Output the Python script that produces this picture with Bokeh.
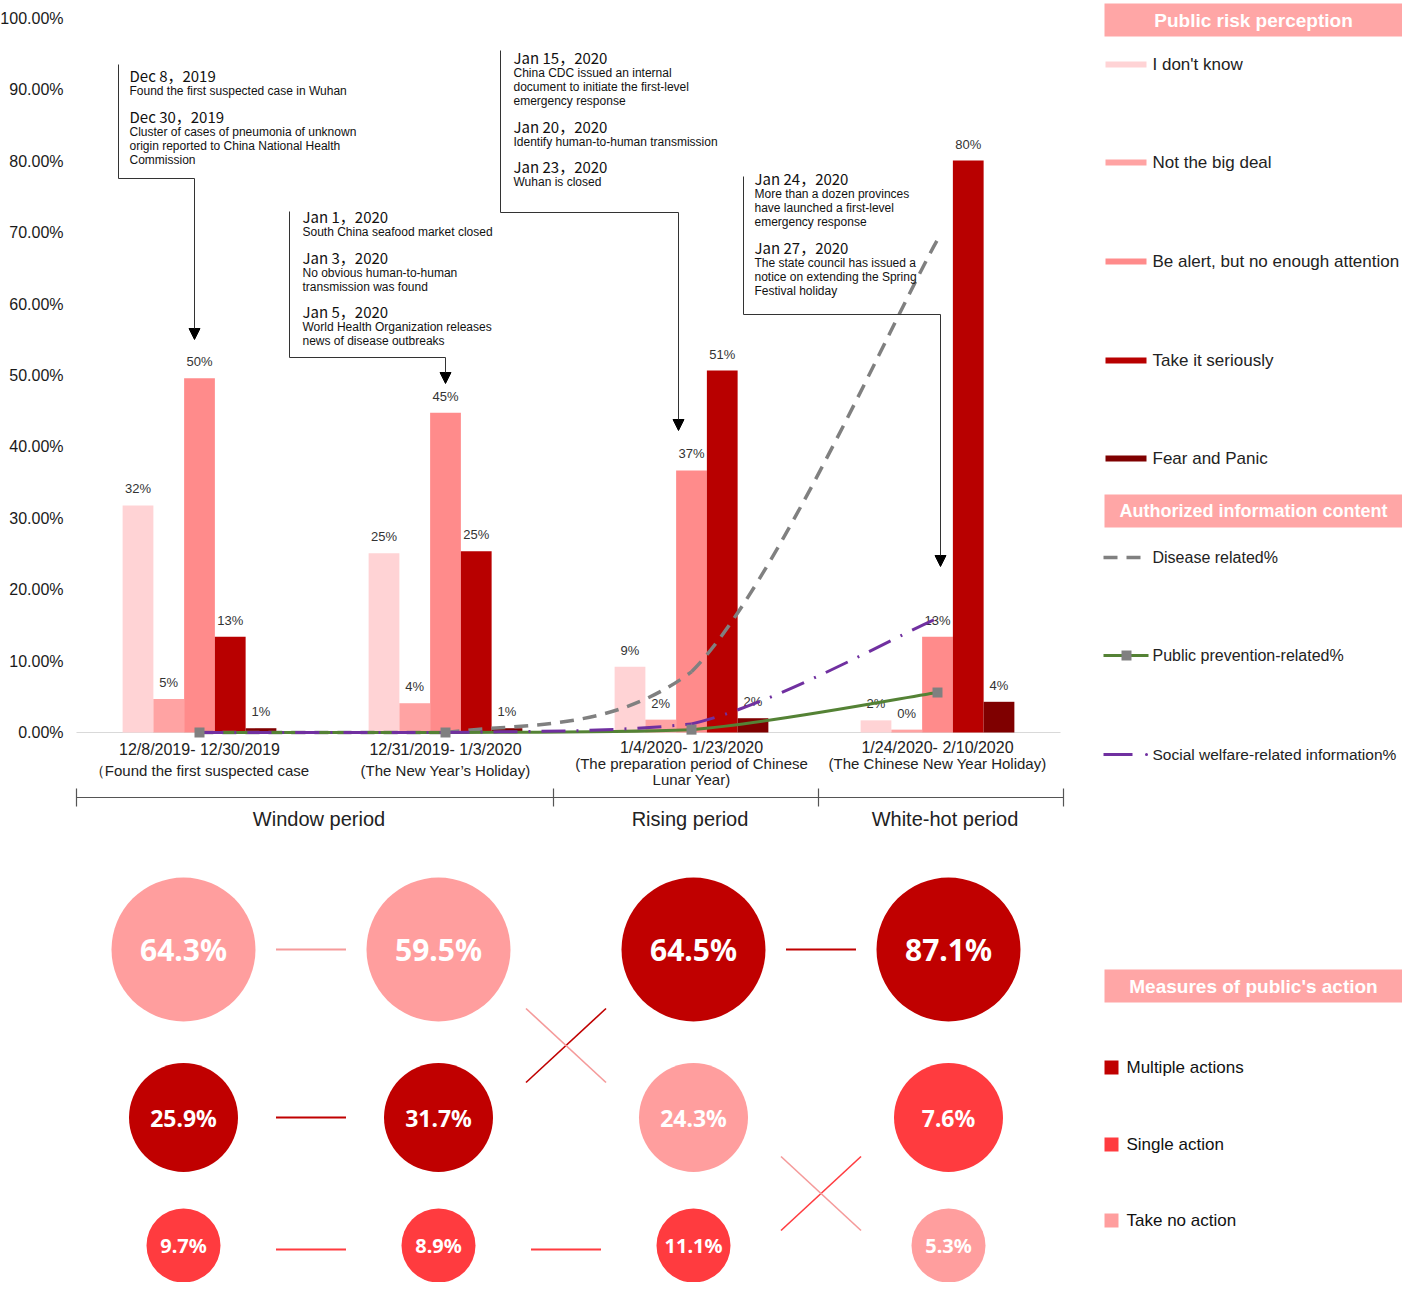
import numpy as np
from bokeh.plotting import figure
from bokeh.models import Range1d, ColumnDataSource, Arrow, NormalHead
from bokeh.embed import file_html
from bokeh.resources import INLINE
from bokeh.core.properties import value

# ---------------- data ----------------
stage_dates = ["12/8/2019- 12/30/2019", "12/31/2019- 1/3/2020",
               "1/4/2020- 1/23/2020", "1/24/2020- 2/10/2020"]
stage_notes = [["（Found the first suspected case"], ["(The New Year’s Holiday)"],
               ["(The preparation period of Chinese", "Lunar Year)"],
               ["(The Chinese New Year Holiday)"]]
periods = ["Window period", "Rising period", "White-hot period"]

risk_levels = ["I don't know", "Not the big deal", "Be alert, but no enough attention",
               "Take it seriously", "Fear and Panic"]
dont_know = [31.8, 25.1, 9.2, 1.7]
not_big_deal = [4.7, 4.1, 1.8, 0.4]
be_alert = [49.6, 44.8, 36.7, 13.4]
take_seriously = [13.4, 25.4, 50.7, 80.1]
fear_panic = [0.6, 0.6, 2.0, 4.3]

info_types = ["Disease related%", "Public prevention-related%",
              "Social welfare-related information%"]
disease_related = [0.0, 0.0, 8.5, 69.0]
prevention_related = [0.0, 0.0, 0.4, 5.6]
welfare_related = [0.0, 0.0, 1.2, 16.0]

y_ticks = [0, 10, 20, 30, 40, 50, 60, 70, 80, 90, 100]
y_tick_labels = [f"{t}.00%" for t in y_ticks]

action_types = ["Multiple actions", "Single action", "Take no action"]
multiple_actions = [25.9, 31.7, 64.5, 87.1]
single_action = [9.7, 8.9, 11.1, 7.6]
no_action = [64.3, 59.5, 24.3, 5.3]

events = [
    [("Dec 8，2019", ["Found the first suspected case in Wuhan"]),
     ("Dec 30，2019", ["Cluster of cases of pneumonia of unknown",
                      "origin reported to China National Health", "Commission"])],
    [("Jan 1，2020", ["South China seafood market closed"]),
     ("Jan 3，2020", ["No obvious human-to-human", "transmission was found"]),
     ("Jan 5，2020", ["World Health Organization releases", "news of disease outbreaks"])],
    [("Jan 15，2020", ["China CDC issued an internal", "document to initiate the first-level",
                      "emergency response"]),
     ("Jan 20，2020", ["Identify human-to-human transmission"]),
     ("Jan 23，2020", ["Wuhan is closed"])],
    [("Jan 24，2020", ["More than a dozen provinces", "have launched a first-level",
                      "emergency response"]),
     ("Jan 27，2020", ["The state council has issued a", "notice on extending the Spring",
                      "Festival holiday"])],
]

# ---------------- layout / style ----------------
PAGE_L, PAGE_T = 0, 0          # picture position of the figure
W, H = 1402, 1282
X0, GROUP_PX = 76, 246          # picture px of x=0, px per stage
Y0, PCT_PX = 732, 7.14          # picture px of 0 %, px per 1 %
def X(px): return (px - X0) / GROUP_PX
def Y(py): return (Y0 - py) / PCT_PX
C0, COL_PX = 183, 255           # bubble columns
def X2(px): return (px - C0) / COL_PX

FONT = value("Liberation Sans")
CJK = value("Noto Sans CJK SC")
bar_colors = ["#FFD3D5", "#FFA3A3", "#FF8B8B", "#B80000", "#7F0000"]
info_colors = ["#808080", "#548235", "#7030A0"]
info_dash = ["14 9", "solid", "24 11 2 11"]
info_width = [3.5, 3, 3]

p = figure(width=W, height=H, output_backend="svg", toolbar_location=None,
           x_range=Range1d(X(PAGE_L), X(PAGE_L + W)),
           y_range=Range1d(Y(PAGE_T + H), Y(PAGE_T)),
           x_axis_location=None, y_axis_location=None, min_border=0)
p.extra_x_ranges = {"bub": Range1d(X2(PAGE_L), X2(PAGE_L + W))}
p.outline_line_color = None
p.grid.visible = False
p.background_fill_color = "white"

def txt(x, y, s, size, color="#222222", align="left", font=FONT, style="normal", **kw):
    p.text(x=[x], y=[y], text=[s], text_align=align, text_baseline="middle", text_font=font,
           text_font_size=size, text_color=color, text_font_style=style, **kw)

# y tick labels
p.text(x=[X(63)] * len(y_ticks), y=y_ticks, text=y_tick_labels, text_align="right",
       text_baseline="middle", text_font=FONT, text_font_size="16px", text_color="#1a1a1a")

# baseline
p.segment(x0=[0], y0=[0], x1=[4], y1=[0], line_color="#D9D9D9", line_width=1.2)

# bars
series = [dont_know, not_big_deal, be_alert, take_seriously, fear_panic]
bw = 0.125
for k, (vals, col) in enumerate(zip(series, bar_colors)):
    xs = [i + 0.5 + (k - 2) * bw for i in range(len(vals))]
    src = ColumnDataSource(dict(x=xs, top=vals, lab=[f"{round(v)}%" for v in vals]))
    p.vbar(x="x", top="top", bottom=0, width=bw, source=src, fill_color=col, line_color=None)
    p.text(x="x", y="top", text="lab", source=src, text_align="center", text_baseline="bottom",
           y_offset=-9, text_font=FONT, text_font_size="13px", text_color="#333333")

# smoothed lines (monotone Bezier through the data points)
def bezier_src(vals):
    pts = [(i + 0.5, v) for i, v in enumerate(vals)]
    n = len(pts)
    d = {k: [] for k in ["x0", "y0", "x1", "y1", "cx0", "cy0", "cx1", "cy1"]}
    for i in range(n - 1):
        p0 = pts[i - 1] if i > 0 else pts[i]
        p1, p2 = pts[i], pts[i + 1]
        p3 = pts[i + 2] if i + 2 < n else pts[i + 1]
        lo, hi = min(p1[1], p2[1]), max(p1[1], p2[1])
        d["x0"].append(p1[0]); d["y0"].append(p1[1])
        d["x1"].append(p2[0]); d["y1"].append(p2[1])
        d["cx0"].append(p1[0] + (p2[0] - p0[0]) / 6)
        d["cy0"].append(min(max(p1[1] + (p2[1] - p0[1]) / 6, lo), hi))
        d["cx1"].append(p2[0] - (p3[0] - p1[0]) / 6)
        d["cy1"].append(min(max(p2[1] - (p3[1] - p1[1]) / 6, lo), hi))
    return ColumnDataSource(d)

line_series = [disease_related, prevention_related, welfare_related]
for k in [0, 1, 2]:
    p.bezier(x0="x0", y0="y0", x1="x1", y1="y1", cx0="cx0", cy0="cy0", cx1="cx1", cy1="cy1",
             source=bezier_src(line_series[k]), line_color=info_colors[k],
             line_width=info_width[k], line_dash=info_dash[k])
p.scatter(x=[i + 0.5 for i in range(len(prevention_related))], y=prevention_related,
          marker="square", size=10, fill_color="#808080", line_color=None)

# stage labels
for i, (d, notes) in enumerate(zip(stage_dates, stage_notes)):
    lines = [d] + notes
    y_first = 749 if i < 2 else 747
    step = 21 if i < 2 else 16
    for j, t in enumerate(lines):
        txt(i + 0.5, Y(y_first + j * step), t, "16px" if j == 0 else "15px", align="center")

# period brackets
BR = [76, 553, 818, 1063]
p.segment(x0=[X(BR[0])], y0=[Y(797)], x1=[X(BR[-1])], y1=[Y(797)], line_color="#555555", line_width=1.2)
p.segment(x0=[X(b) for b in BR], y0=[Y(788)] * 4, x1=[X(b) for b in BR], y1=[Y(806)] * 4,
          line_color="#555555", line_width=1.2)
for name, a, b in zip(periods, BR[:-1], BR[1:]):
    txt(X((a + b) / 2 + 4), Y(818), name, "20px", align="center")

# event annotations
ANN = [dict(tx=129, ty=75, vx=118, top=64, cy=178, ax=194, tip=339),
       dict(tx=302, ty=216, vx=289, top=211, cy=357, ax=445, tip=383),
       dict(tx=513, ty=57, vx=500, top=50, cy=212, ax=678, tip=430),
       dict(tx=754, ty=178, vx=743, top=176, cy=314, ax=940, tip=566)]
for ev, a in zip(events, ANN):
    y = a["ty"]
    for date, desc in ev:
        txt(X(a["tx"]), Y(y), date, "15px", color="#111111", font=CJK)
        y += 15.5
        for line in desc:
            txt(X(a["tx"]), Y(y), line, "12px", color="#111111")
            y += 14
        y += 11
    p.line(x=[X(a["vx"]), X(a["vx"]), X(a["ax"])], y=[Y(a["top"]), Y(a["cy"]), Y(a["cy"])],
           line_color="#333333", line_width=1)
    p.add_layout(Arrow(end=NormalHead(size=11, fill_color="black", line_color="black"),
                       x_start=X(a["ax"]), y_start=Y(a["cy"]), x_end=X(a["ax"]), y_end=Y(a["tip"]),
                       line_color="#333333", line_width=1))

# legend boxes
TITLE_BG = "#FFA6A6"
def title_box(y_top, y_bot, text, size):
    p.quad(left=[X(1104)], right=[X(1402)], top=[Y(y_top)], bottom=[Y(y_bot)],
           fill_color=TITLE_BG, line_color=None)
    txt(X(1253), Y((y_top + y_bot) / 2), text, size, color="white", align="center", style="bold")

title_box(3, 36, "Public risk perception", "19px")
LEG_Y = [64, 162, 261, 360, 458]
for name, col, ly in zip(risk_levels, bar_colors, LEG_Y):
    p.quad(left=[X(1105)], right=[X(1146)], top=[Y(ly - 3)], bottom=[Y(ly + 3)],
           fill_color=col, line_color=None)
    txt(X(1152), Y(ly), name, "17px")
title_box(494, 527, "Authorized information content", "18px")
LEG_Y2 = [557, 655, 754]
LEG_SIZE2 = ["16px", "16px", "15.5px"]
for k, (name, ly) in enumerate(zip(info_types, LEG_Y2)):
    col, dash, w = info_colors[k], info_dash[k], info_width[k]
    if k == 2:
        p.segment(x0=[X(1103)], y0=[Y(ly)], x1=[X(1132)], y1=[Y(ly)], line_color=col, line_width=w)
        p.scatter(x=[X(1146)], y=[Y(ly)], marker="circle", size=3, fill_color=col, line_color=None)
    else:
        p.segment(x0=[X(1103)], y0=[Y(ly)], x1=[X(1148)], y1=[Y(ly)], line_color=col,
                  line_width=w, line_dash=dash)
    if k == 1:
        p.scatter(x=[X(1126)], y=[Y(ly)], marker="square", size=10, fill_color="#808080", line_color=None)
    txt(X(1152), Y(ly), name, LEG_SIZE2[k])

# ---------------- bubble panel ----------------
action_series = [multiple_actions, single_action, no_action]
action_colors = ["#C00000", "#FF3B3F", "#FF9E9E"]
link_colors = ["#C00000", "#FF3B3F", "#F59A9A"]
ROW_Y = [949, 1117, 1245]
ROW_D = [144, 109, 74]
ROW_FONT = ["30px", "23px", "20px"]

n_per = len(multiple_actions)
rank = [[0] * n_per for _ in action_series]
for i in range(n_per):
    vals = [s[i] for s in action_series]
    order = sorted(range(len(vals)), key=lambda k: -vals[k])
    for r, k in enumerate(order):
        rank[k][i] = r

for k, col in enumerate(link_colors):
    for i in range(n_per - 1):
        r0, r1 = rank[k][i], rank[k][i + 1]
        g = i + 0.5
        if r0 == r1:
            dx = 35 / COL_PX
            yy = ROW_Y[r0] + (4 if r0 == 2 else 0)
            p.segment(x0=[g - dx], y0=[Y(yy)], x1=[g + dx], y1=[Y(yy)],
                      line_color=col, line_width=2, x_range_name="bub")
        else:
            dx = 40 / COL_PX
            mid = (ROW_Y[r0] + ROW_Y[r1]) / 2 + 12
            s = 1 if r1 > r0 else -1
            p.segment(x0=[g - dx], y0=[Y(mid - 37 * s)], x1=[g + dx], y1=[Y(mid + 37 * s)],
                      line_color=col, line_width=1.6, x_range_name="bub")

for k, (vals, col) in enumerate(zip(action_series, action_colors)):
    xs = list(range(n_per))
    ys = [Y(ROW_Y[rank[k][i]]) for i in xs]
    sz = [ROW_D[rank[k][i]] for i in xs]
    p.scatter(x=xs, y=ys, size=sz, marker="circle", fill_color=col, line_color=None, x_range_name="bub")
    for i in xs:
        p.text(x=[i], y=[ys[i]], text=[f"{vals[i]:.1f}%"], text_align="center", text_baseline="middle",
               text_font=value("Noto Sans"), text_font_style="bold",
               text_font_size=ROW_FONT[rank[k][i]], text_color="white", x_range_name="bub")

title_box(969, 1002, "Measures of public's action", "19px")
LEG3_Y = [1067, 1144, 1220]
for name, col, ly in zip(action_types, action_colors, LEG3_Y):
    p.quad(left=[X(1104)], right=[X(1118)], top=[Y(ly - 7)], bottom=[Y(ly + 7)], fill_color=col, line_color=None)
    txt(X(1126), Y(ly), name, "17px", color="#111111")

open("out.html", "w").write(file_html(p, INLINE))
